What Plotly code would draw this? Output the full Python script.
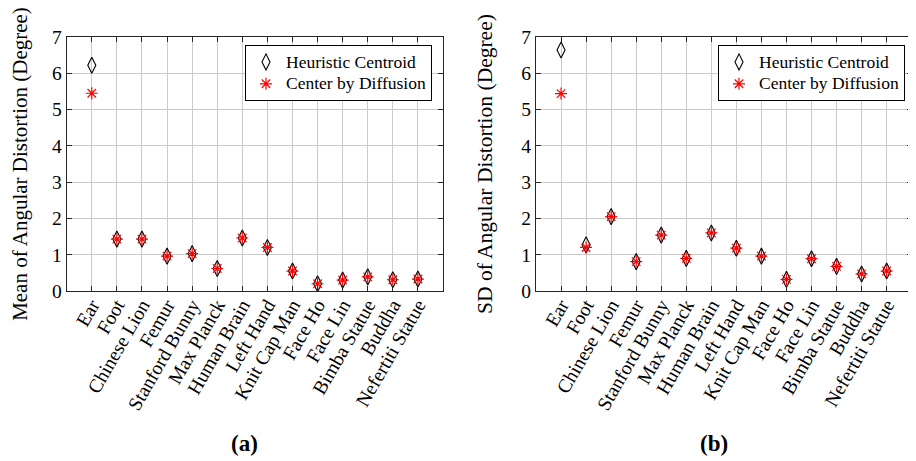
import plotly.graph_objects as go

categories = ["Ear", "Foot", "Chinese Lion", "Femur", "Stanford Bunny", "Max Planck",
              "Human Brain", "Left Hand", "Knit Cap Man", "Face Ho", "Face Lin",
              "Bimba Statue", "Buddha", "Nefertiti Statue"]
mean_heuristic = [6.22, 1.43, 1.43, 0.96, 1.03, 0.62, 1.46, 1.20, 0.55, 0.20, 0.30, 0.39, 0.31, 0.33]
mean_diffusion = [5.45, 1.43, 1.43, 0.96, 1.03, 0.62, 1.46, 1.20, 0.55, 0.20, 0.30, 0.39, 0.31, 0.33]
sd_heuristic = [6.64, 1.27, 2.05, 0.81, 1.54, 0.90, 1.60, 1.18, 0.96, 0.32, 0.89, 0.68, 0.47, 0.55]
sd_diffusion = [5.44, 1.20, 2.05, 0.81, 1.54, 0.90, 1.60, 1.18, 0.96, 0.32, 0.89, 0.68, 0.47, 0.55]
y_ticks = [0, 1, 2, 3, 4, 5, 6, 7]

# page has an 8px body margin: work in reference pixels and shift by OFF
OFF = 8
W, H = 916 - OFF, 461 - OFF
TOP, BOTTOM = 37 - OFF, 291 - OFF
PH = BOTTOM - TOP
FONT = "Liberation Serif"
xpos = list(range(1, len(categories) + 1))


def px(xr):
    return (xr - OFF) / W


def py(yr):
    return (BOTTOM - (yr - OFF)) / PH


def leg_text(s):
    return f'<span style="font-size:17.5px;font-family:Liberation Serif">{s}</span>'


fig = go.Figure()


def add_pair(hc, cd, xa, ya, leg):
    fig.add_trace(go.Scatter(
        x=xpos, y=hc, mode="markers", name=leg_text("Heuristic Centroid"),
        marker=dict(symbol="diamond-tall-open", size=11.5, color="black",
                    line=dict(width=1.1, color="black")),
        xaxis=xa, yaxis=ya, legend=leg))
    fig.add_trace(go.Scatter(
        x=xpos, y=cd, mode="markers", name=leg_text("Center by Diffusion"),
        marker=dict(symbol="asterisk-open", size=10, color="red",
                    line=dict(width=1.2, color="red")),
        xaxis=xa, yaxis=ya, legend=leg))


add_pair(mean_heuristic, mean_diffusion, "x", "y", "legend")
add_pair(sd_heuristic, sd_diffusion, "x2", "y2", "legend2")

axis_common = dict(
    showline=True, linecolor="#262626", linewidth=1, mirror="ticks",
    ticks="inside", ticklen=5, tickcolor="#262626",
    showgrid=True, gridcolor="#cbcbcb", gridwidth=1, zeroline=False,
    tickfont=dict(family=FONT, size=19.5, color="black"),
)

xaxis_common = dict(axis_common, range=[0, 15], tickmode="array", tickvals=xpos,
                    ticktext=categories, tickangle=-60, ticklabelstandoff=-6)
yaxis_common = dict(axis_common, range=[0, 7], tickmode="array", tickvals=y_ticks,
                    ticktext=[str(v) for v in y_ticks])

leg_common = dict(xref="paper", yref="paper", xanchor="right", yanchor="top",
                  bgcolor="white", bordercolor="black", borderwidth=1,
                  font=dict(family=FONT, size=14.5), tracegroupgap=0)

fig.update_layout(
    width=W, height=H,
    margin=dict(l=0, r=0, t=TOP, b=H - BOTTOM),
    paper_bgcolor="white", plot_bgcolor="white",
    font=dict(family=FONT, size=17, color="black"),
    showlegend=True,
    xaxis=dict(xaxis_common, domain=[px(66.7), px(443)], anchor="y"),
    yaxis=dict(yaxis_common, domain=[0, 1], anchor="x",
               title=dict(text="Mean of Angular Distortion (Degree)",
                          font=dict(family=FONT, size=21), standoff=23)),
    xaxis2=dict(xaxis_common, domain=[px(536), px(911.7)], anchor="y2"),
    yaxis2=dict(yaxis_common, domain=[0, 1], anchor="x2",
                title=dict(text="SD of Angular Distortion (Degree)",
                           font=dict(family=FONT, size=21.5), standoff=22)),
    legend=dict(leg_common, x=px(432), y=py(45)),
    legend2=dict(leg_common, x=px(905), y=py(45)),
    annotations=[
        dict(text="<b>(a)</b>", x=px(245), y=py(443), xref="paper", yref="paper",
             showarrow=False, font=dict(family=FONT, size=23), xanchor="center", yanchor="middle"),
        dict(text="<b>(b)</b>", x=px(714), y=py(443), xref="paper", yref="paper",
             showarrow=False, font=dict(family=FONT, size=23), xanchor="center", yanchor="middle"),
    ],
)

fig.write_html("out.html")
